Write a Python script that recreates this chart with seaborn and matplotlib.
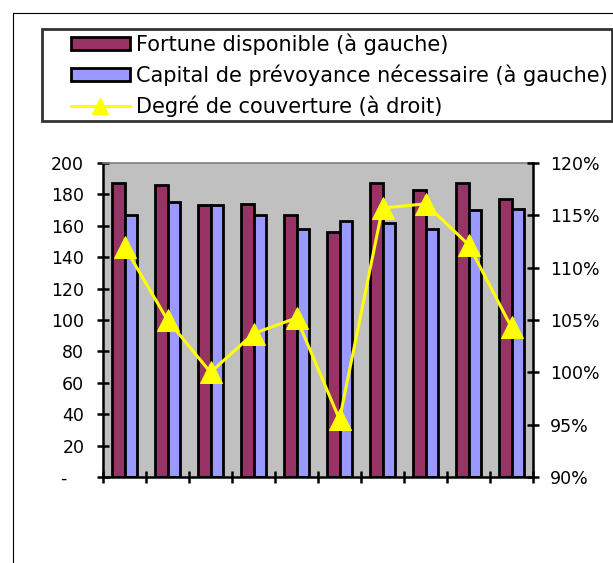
import numpy as np
import pandas as pd
import matplotlib
matplotlib.use("Agg")
import matplotlib.pyplot as plt
import seaborn as sns
from matplotlib.patches import Patch
from matplotlib.lines import Line2D
from matplotlib.ticker import FuncFormatter
from matplotlib.legend_handler import HandlerPatch, HandlerLine2D

# -------------------------------
# DATA
# -------------------------------
periods = ["1", "2", "3", "4", "5", "6", "7", "8", "9", "10"]
fortune = [187, 186, 173, 174, 167, 156, 187, 183, 187, 177]
capital = [167, 175, 173, 167, 158, 163, 162, 158, 170, 171]
coverage = [1.12, 1.05, 1.00, 1.037, 1.052, 0.955, 1.157, 1.161, 1.122, 1.043]

series_names = ["Fortune disponible (à gauche)",
                "Capital de prévoyance nécessaire (à gauche)"]
line_name = "Degré de couverture (à droit)"

maroon = "#993366"
lavender = "#9999FF"
yellow = "#FFFF00"
plot_bg = "#C0C0C0"

df = pd.DataFrame({
    "period": periods * 2,
    "value": fortune + capital,
    "series": [series_names[0]] * len(periods) + [series_names[1]] * len(periods),
})

# -------------------------------
# FIGURE
# -------------------------------
sns.set_theme(style="white")
plt.rcParams["font.family"] = ["DejaVu Sans"]
plt.rcParams["text.color"] = "black"
plt.rcParams["xtick.color"] = "black"
plt.rcParams["ytick.color"] = "black"

fig = plt.figure(figsize=(6.13, 5.63), dpi=100)
ax = fig.add_axes([103 / 613, 1 - 477 / 563, 430 / 613, 314 / 563])
ax.set_facecolor(plot_bg)

sns.barplot(data=df, x="period", y="value", hue="series", order=periods,
            hue_order=series_names, palette=[maroon, lavender],
            width=0.58, gap=0, edgecolor="black", linewidth=2.0,
            saturation=1, legend=False, ax=ax)

ax.set_xlim(-0.5, len(periods) - 0.5)
ax.set_ylim(0, 200)
ax.set_yticks(range(0, 201, 20))
ax.yaxis.set_major_formatter(FuncFormatter(lambda v, p: "-   " if v == 0 else f"{v:.0f}"))
ax.set_xticks(np.arange(len(periods) + 1) - 0.5)
ax.set_xticklabels([])
ax.set_xlabel("")
ax.set_ylabel("")
ax.tick_params(axis="both", direction="inout", length=9, width=1.8,
               color="black", labelcolor="black", labelsize=12.5, pad=9,
               left=True, bottom=True)

for s in ["left", "bottom"]:
    ax.spines[s].set_color("black")
    ax.spines[s].set_linewidth(1.8)
ax.spines["top"].set_color("#808080")
ax.spines["top"].set_linewidth(1.2)
ax.spines["right"].set_visible(False)

# -------------------------------
# COVERAGE LINE (right axis)
# -------------------------------
ax2 = ax.twinx()
sns.lineplot(x=np.arange(len(periods)), y=coverage, color=yellow,
             linewidth=2.2, marker="^", markersize=16,
             markeredgecolor=yellow, ax=ax2)
ax2.set_ylim(0.9, 1.2)
ax2.set_yticks(np.arange(0.9, 1.2001, 0.05))
ax2.yaxis.set_major_formatter(FuncFormatter(lambda v, p: f"{v * 100:.0f}%"))
ax2.tick_params(axis="y", direction="inout", length=9, width=1.8,
                color="black", labelcolor="black", labelsize=12.5, pad=8,
                right=True)
for s in ["left", "bottom", "top"]:
    ax2.spines[s].set_visible(False)
ax2.spines["right"].set_color("black")
ax2.spines["right"].set_linewidth(1.8)

# -------------------------------
# LEGEND + OUTER FRAME
# -------------------------------
handles = [
    Patch(facecolor=maroon, edgecolor="black", linewidth=2.0),
    Patch(facecolor=lavender, edgecolor="black", linewidth=2.0),
    Line2D([], [], color=yellow, linewidth=2.2, marker="^",
           markersize=12, markeredgecolor=yellow),
]
leg = fig.legend(handles, series_names + [line_name],
                 loc="upper left", bbox_to_anchor=(42 / 613, 1 - 29 / 563),
                 bbox_transform=fig.transFigure, fontsize=15,
                 frameon=True, fancybox=False, borderaxespad=0,
                 handlelength=4.0, handleheight=0.6, handletextpad=0.3,
                 labelspacing=0.47, borderpad=0.2,
                 handler_map={Patch: HandlerPatch(xpad=1.2),
                              Line2D: HandlerLine2D(xpad=1.2)})
leg.get_frame().set_edgecolor("black")
leg.get_frame().set_linewidth(2.0)

fig.add_artist(Line2D([13 / 613, 1], [1 - 12.5 / 563] * 2, color="black",
                      linewidth=0.8, transform=fig.transFigure))
fig.add_artist(Line2D([13 / 613] * 2, [0, 1 - 12.5 / 563], color="black",
                      linewidth=0.8, transform=fig.transFigure))

fig.savefig("out.png", dpi=100)
